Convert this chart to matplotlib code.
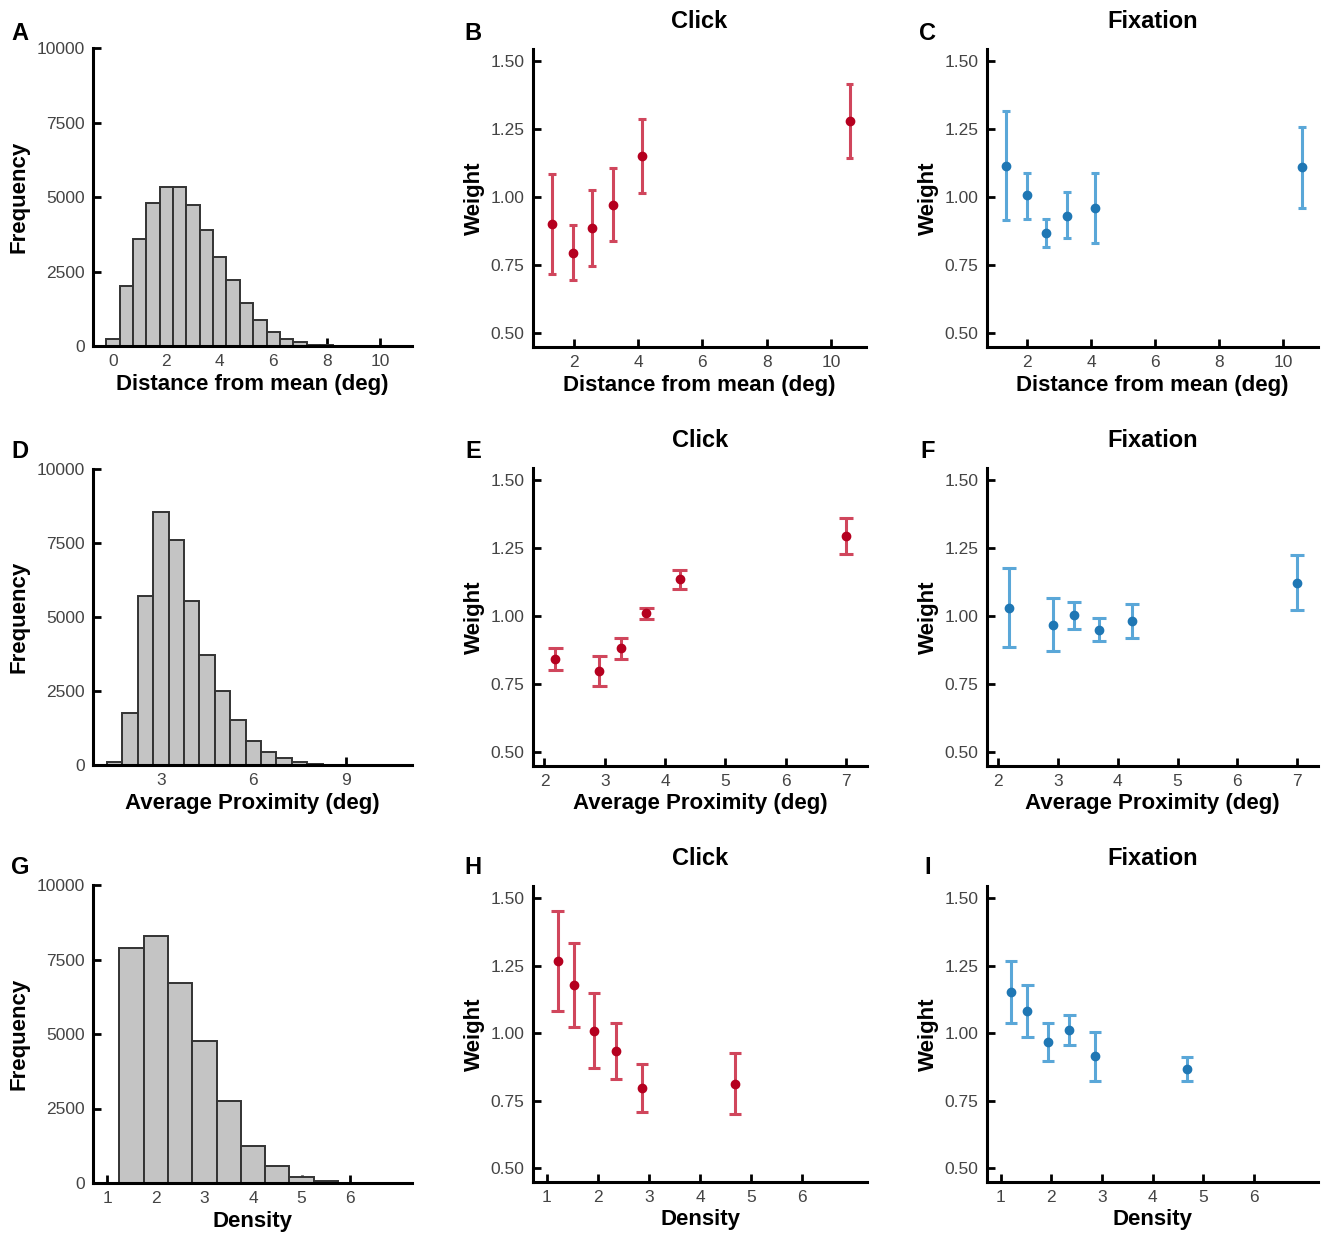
import matplotlib
matplotlib.use('Agg')
import matplotlib.pyplot as plt
import numpy as np

plt.rcParams['font.family'] = ['Liberation Sans', 'DejaVu Sans']

# ---- histogram data (bin centres, width 0.5) ----
dist_centres = [0.0, 0.5, 1.0, 1.5, 2.0, 2.5, 3.0, 3.5, 4.0, 4.5, 5.0, 5.5, 6.0, 6.5, 7.0, 7.5, 8.0]
dist_counts = [250, 2000, 3600, 4800, 5330, 5330, 4740, 3900, 2970, 2210, 1440, 880, 480, 250, 120, 50, 20]

prox_centres = [1.5, 2.0, 2.5, 3.0, 3.5, 4.0, 4.5, 5.0, 5.5, 6.0, 6.5, 7.0, 7.5, 8.0, 8.5]
prox_counts = [110, 1750, 5720, 8560, 7600, 5550, 3720, 2510, 1520, 810, 430, 225, 90, 35, 10]

dens_centres = [1.5, 2.0, 2.5, 3.0, 3.5, 4.0, 4.5, 5.0, 5.5, 6.0]
dens_counts = [7870, 8290, 6700, 4760, 2750, 1230, 560, 200, 55, 15]

# ---- weight data: x, mean, lower, upper ----
dist_x = [1.34, 1.99, 2.58, 3.23, 4.12, 10.57]
dist_click = [0.903, 0.796, 0.889, 0.973, 1.150, 1.279]
dist_click_lo = [0.717, 0.695, 0.749, 0.840, 1.016, 1.144]
dist_click_hi = [1.087, 0.900, 1.028, 1.108, 1.289, 1.415]
dist_fix = [1.115, 1.007, 0.870, 0.933, 0.962, 1.110]
dist_fix_lo = [0.918, 0.922, 0.816, 0.849, 0.832, 0.962]
dist_fix_hi = [1.316, 1.091, 0.922, 1.018, 1.089, 1.258]

prox_x = [2.18, 2.91, 3.27, 3.69, 4.24, 7.0]
prox_click = [0.842, 0.800, 0.882, 1.011, 1.137, 1.296]
prox_click_lo = [0.802, 0.745, 0.844, 0.991, 1.102, 1.229]
prox_click_hi = [0.883, 0.855, 0.919, 1.029, 1.172, 1.361]
prox_fix = [1.029, 0.969, 1.004, 0.951, 0.984, 1.124]
prox_fix_lo = [0.886, 0.871, 0.955, 0.910, 0.921, 1.023]
prox_fix_hi = [1.179, 1.066, 1.052, 0.993, 1.044, 1.227]

dens_x = [1.21, 1.53, 1.93, 2.36, 2.87, 4.68]
dens_click = [1.268, 1.177, 1.009, 0.933, 0.796, 0.813]
dens_click_lo = [1.081, 1.024, 0.873, 0.830, 0.710, 0.702]
dens_click_hi = [1.454, 1.333, 1.148, 1.040, 0.886, 0.927]
dens_fix = [1.153, 1.084, 0.967, 1.011, 0.917, 0.867]
dens_fix_lo = [1.039, 0.988, 0.896, 0.957, 0.825, 0.824]
dens_fix_hi = [1.266, 1.180, 1.038, 1.066, 1.006, 0.911]

W, H = 1326, 1234
fig = plt.figure(figsize=(W / 100, H / 100), dpi=100)


def px_axes(l, t, r, b):
    return fig.add_axes([l / W, 1 - b / H, (r - l) / W, (b - t) / H])


def style(ax):
    for s in ['top', 'right']:
        ax.spines[s].set_visible(False)
    for s in ['left', 'bottom']:
        ax.spines[s].set_linewidth(2.2)
    ax.tick_params(direction='in', length=6, width=2, labelsize=12.5,
                   labelcolor='#444444', pad=6)


def hist_panel(ax, centres, counts, xlim, xticks, xlabel):
    ax.bar(centres, counts, width=0.5, color='#c4c4c4', edgecolor='#333333',
           linewidth=1.4, zorder=2)
    ax.set_xlim(*xlim)
    ax.set_ylim(0, 10000)
    ax.set_xticks(xticks)
    ax.set_yticks([0, 2500, 5000, 7500, 10000])
    style(ax)
    ax.set_xlabel(xlabel, fontsize=16, fontweight='bold', labelpad=3)
    ax.set_ylabel('Frequency', fontsize=16, fontweight='bold', labelpad=5)


def weight_panel(ax, x, y, lo, hi, kind, xlim, xticks, xlabel):
    if kind == 'Click':
        bar_c, pt_c = '#d0465c', '#b5001f'
    else:
        bar_c, pt_c = '#5aa7d8', '#1f77b4'
    x = np.array(x)
    ax.vlines(x, lo, hi, color=bar_c, linewidth=2.2, zorder=2)
    ax.hlines(lo, x - 0.12, x + 0.12, color=bar_c, linewidth=2.2, zorder=2)
    ax.hlines(hi, x - 0.12, x + 0.12, color=bar_c, linewidth=2.2, zorder=2)
    ax.plot(x, y, 'o', color=pt_c, markersize=6, zorder=3)
    ax.set_xlim(*xlim)
    ax.set_ylim(0.45, 1.545)
    ax.set_xticks(xticks)
    ax.set_yticks([0.5, 0.75, 1.0, 1.25, 1.5])
    ax.set_yticklabels(['0.50', '0.75', '1.00', '1.25', '1.50'])
    style(ax)
    ax.set_xlabel(xlabel, fontsize=16, fontweight='bold', labelpad=3)
    ax.set_ylabel('Weight', fontsize=16, fontweight='bold', labelpad=4)
    ax.set_title(kind, fontsize=17, fontweight='bold', pad=15)


# row 1
axA = px_axes(93, 48, 412, 346)
hist_panel(axA, dist_centres, dist_counts, (-0.75, 11.2), [0, 2, 4, 6, 8, 10],
           'Distance from mean (deg)')
axB = px_axes(533, 49, 866, 347)
weight_panel(axB, dist_x, dist_click, dist_click_lo, dist_click_hi, 'Click',
             (0.74, 11.08), [2, 4, 6, 8, 10], 'Distance from mean (deg)')
axC = px_axes(987, 49, 1318, 347)
weight_panel(axC, dist_x, dist_fix, dist_fix_lo, dist_fix_hi, 'Fixation',
             (0.74, 11.08), [2, 4, 6, 8, 10], 'Distance from mean (deg)')

# row 2
axD = px_axes(93, 469, 412, 765)
hist_panel(axD, prox_centres, prox_counts, (0.8, 11.15), [3, 6, 9],
           'Average Proximity (deg)')
axE = px_axes(533, 468, 867, 766)
weight_panel(axE, prox_x, prox_click, prox_click_lo, prox_click_hi, 'Click',
             (1.81, 7.35), [2, 3, 4, 5, 6, 7], 'Average Proximity (deg)')
axF = px_axes(987, 468, 1318, 766)
weight_panel(axF, prox_x, prox_fix, prox_fix_lo, prox_fix_hi, 'Fixation',
             (1.81, 7.35), [2, 3, 4, 5, 6, 7], 'Average Proximity (deg)')

# row 3
axG = px_axes(93, 885, 412, 1183)
hist_panel(axG, dens_centres, dens_counts, (0.71, 7.27), [1, 2, 3, 4, 5, 6],
           'Density')
axH = px_axes(533, 886, 867, 1182)
weight_panel(axH, dens_x, dens_click, dens_click_lo, dens_click_hi, 'Click',
             (0.73, 7.27), [1, 2, 3, 4, 5, 6], 'Density')
axI = px_axes(987, 886, 1318, 1182)
weight_panel(axI, dens_x, dens_fix, dens_fix_lo, dens_fix_hi, 'Fixation',
             (0.73, 7.27), [1, 2, 3, 4, 5, 6], 'Density')

# panel letters
letters = [('A', 20, 33), ('B', 473, 33), ('C', 928, 33),
           ('D', 20, 452), ('E', 473, 452), ('F', 928, 452),
           ('G', 20, 868), ('H', 473, 867), ('I', 928, 867)]
for txt, lx, ly in letters:
    fig.text(lx / W, 1 - ly / H, txt, fontsize=17, fontweight='bold',
             ha='center', va='center')

fig.savefig('out.png', dpi=100)
